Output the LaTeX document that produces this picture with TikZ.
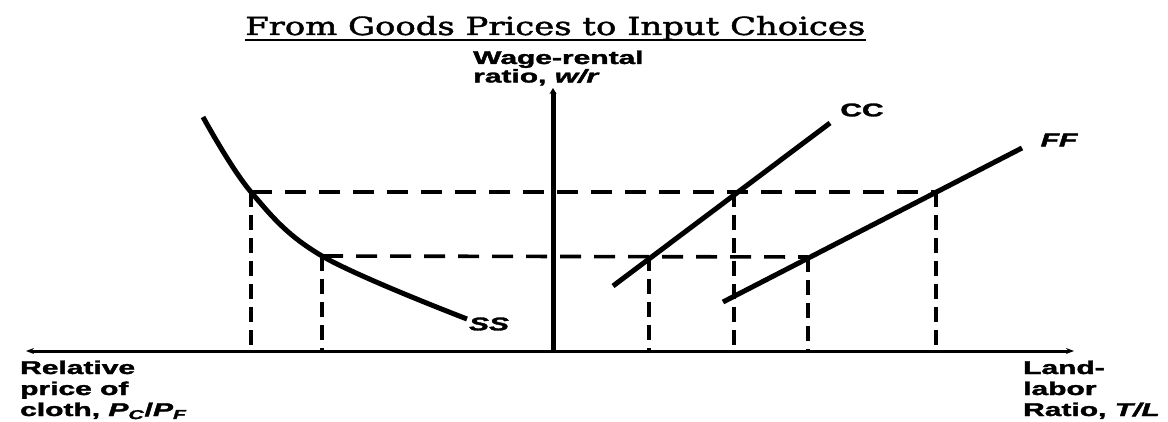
\documentclass[tikz,border=0pt]{standalone}
\usepackage{fontspec}
\usepackage{graphicx}
\setmainfont{Liberation Sans}
\newfontfamily\heavyfont{Liberation Sans Bold}[FakeBold=1.6, ItalicFont={Liberation Sans Bold Italic}]
\newfontfamily\titlefont{DejaVu Serif}[FakeBold=1.5]
\usetikzlibrary{arrows.meta}
\newcommand{\wtxt}[1]{\scalebox{1.62}[1]{#1}}
\tikzset{
  x=1pt, y=-1pt,
  curve/.style={line width=5pt},
  dashh/.style={line width=3.6pt, dash pattern=on 21pt off 13pt},
  dashv/.style={line width=3.6pt, dash pattern=on 15pt off 8pt},
  lab/.style={inner sep=0pt, font=\fontsize{18.5}{21}\selectfont\heavyfont},
  clab/.style={inner sep=0pt, font=\fontsize{18.5}{21}\selectfont\heavyfont},
}
\begin{document}
\begin{tikzpicture}
\useasboundingbox (0,0) rectangle (1168,422);
% title
\node[inner sep=0pt, anchor=base west] (title) at (245,35)
  {\resizebox{620pt}{19pt}{\titlefont From Goods Prices to Input Choices}};
\coordinate (ul1) at (245,40);
\coordinate (ul2) at (866,40);
\draw[line width=2pt] (ul1) -- (ul2);
% axes
\coordinate (xl) at (26,351);
\coordinate (xr) at (1074,351);
\coordinate (o) at (553,351);
\coordinate (yt) at (553,88);
\draw[line width=3pt, {Stealth[length=8pt,width=6pt]}-{Stealth[length=8pt,width=6pt]}] (xl) -- (xr);
\draw[line width=5pt, -{Stealth[length=6pt,width=7pt]}] (o) -- (yt);
% key points
\coordinate (s0) at (203,117);
\coordinate (s1) at (251,192);
\coordinate (s2) at (322,256);
\coordinate (s3) at (467,319);
\coordinate (c0) at (613,286);
\coordinate (c1) at (649,256);
\coordinate (c2) at (734,192);
\coordinate (c3) at (830,123);
\coordinate (f0) at (723,302);
\coordinate (f1) at (808,257);
\coordinate (f2) at (936,192);
\coordinate (f3) at (1022,148);
% dashed
\draw[dashh] (s1) -- (f2);
\draw[dashh] (s2) -- (f1);
\draw[dashv] (s1) -- (s1 |- o);
\draw[dashv] (s2) -- (s2 |- o);
\draw[dashv] (c1) -- (c1 |- o);
\draw[dashv] (c2) -- (c2 |- o);
\draw[dashv] (f1) -- (f1 |- o);
\draw[dashv] (f2) -- (f2 |- o);
% curves
\draw[curve] plot[smooth, tension=0.6] coordinates {(s0) (s1) (s2) (s3)};
\draw[curve] (c0) -- (c3);
\draw[curve] (f0) -- (f3);
% curve labels
\node[clab] (ss) at (489,324) {\wtxt{\itshape SS}};
\node[clab] (cc) at (862,110) {\wtxt{CC}};
\node[clab] (ff) at (1059,140) {\wtxt{\itshape FF}};
% axis labels
\node[lab, anchor=base west] (ylab) at (473,64)
  {\wtxt{\fontsize{18.5}{17}\selectfont\begin{tabular}[t]{@{}l@{}}Wage-rental\\ratio, \textit{w/r}\end{tabular}}};
\node[lab, anchor=base west] (xlab) at (20,374)
  {\wtxt{\begin{tabular}[t]{@{}l@{}}Relative\\price of\\cloth, \textit{P}\textsubscript{\textit{C}}/\textit{P}\textsubscript{\textit{F}}\end{tabular}}};
\node[lab, anchor=base west] (rlab) at (1023,374)
  {\wtxt{\begin{tabular}[t]{@{}l@{}}Land-\\labor\\Ratio, \textit{T/L}\end{tabular}}};
\end{tikzpicture}
\end{document}
